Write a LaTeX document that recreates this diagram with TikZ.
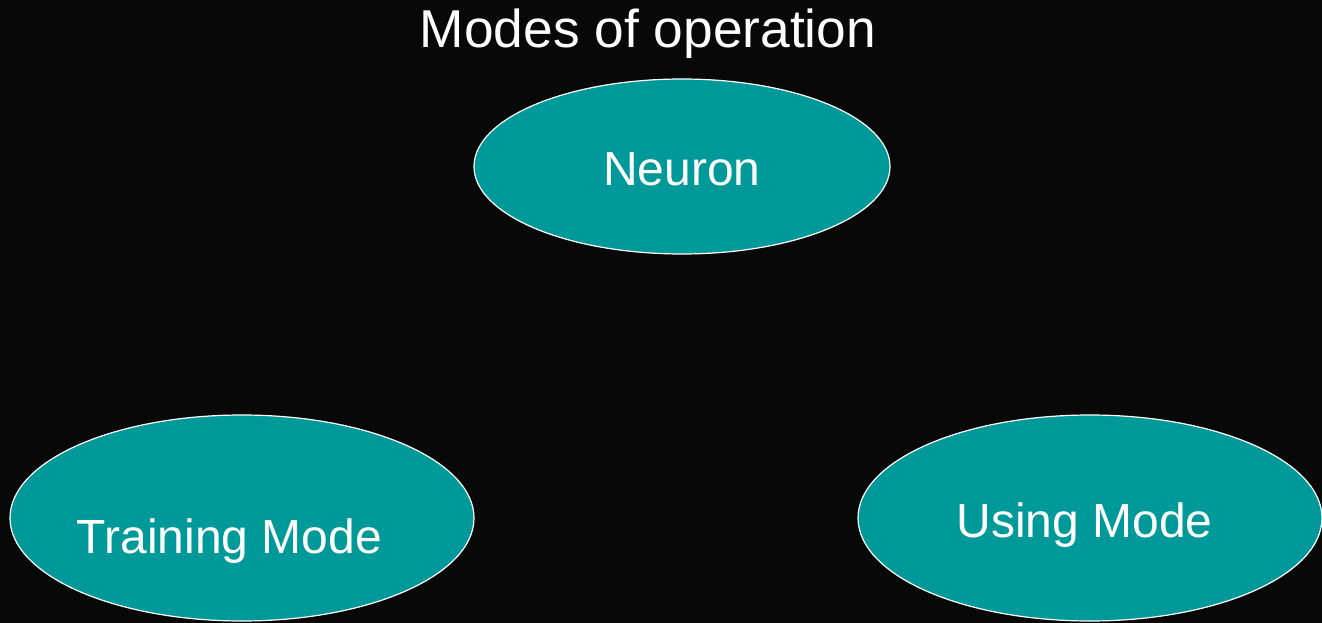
\documentclass[tikz,border=0pt]{standalone}
\usepackage{fontspec}
\setmainfont{Liberation Sans}
\usetikzlibrary{shapes.geometric}
\definecolor{bgc}{RGB}{8,8,8}
\definecolor{teal}{RGB}{0,153,153}
\begin{document}
\begin{tikzpicture}[x=1pt,y=-1pt,
  oval/.style={ellipse,draw=white,line width=1.2pt,fill=teal,inner sep=0pt},
  lbl/.style={text=white,anchor=base,inner sep=0pt,font=\fontsize{48}{57}\selectfont}]
\fill[bgc] (0,0) rectangle (1322,623);
\useasboundingbox (0,0) rectangle (1322,623);
\node[oval,minimum width=416pt,minimum height=175pt] (neuron) at (682,166.5) {};
\node[oval,minimum width=464pt,minimum height=206pt] (train) at (242,518) {};
\node[oval,minimum width=464pt,minimum height=206pt] (use) at (1090,518) {};
\node[text=white,anchor=base,inner sep=0pt,font=\fontsize{53.3}{62}\selectfont] (title) at (648,48) {Modes of operation};
\node[lbl] (neurontxt) at (682,185) {Neuron};
\node[lbl] (traintxt) at (229.5,553) {Training Mode};
\node[lbl] (usetxt) at (1084.5,537) {Using Mode};
\end{tikzpicture}
\end{document}
